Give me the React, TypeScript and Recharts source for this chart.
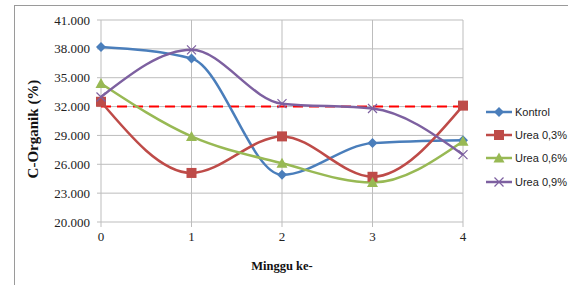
import { LineChart, Line, XAxis, YAxis, CartesianGrid, ReferenceLine } from 'recharts';

const weeks = [0, 1, 2, 3, 4];
const kontrol = [38.2, 37.0, 24.9, 28.2, 28.5];
const urea03 = [32.5, 25.1, 28.9, 24.7, 32.1];
const urea06 = [34.4, 28.9, 26.1, 24.1, 28.4];
const urea09 = [33.0, 37.9, 32.3, 31.8, 27.0];
const yTicks = [20, 23, 26, 29, 32, 35, 38, 41];
const xTicks = [0, 1, 2, 3, 4];
const baseline = 32;

const data = weeks.map((w, i) => ({
  week: w,
  kontrol: kontrol[i],
  urea03: urea03[i],
  urea06: urea06[i],
  urea09: urea09[i],
}));

const series = [
  { key: 'kontrol', name: 'Kontrol', color: '#4A7EBB', shape: 'diamond' },
  { key: 'urea03', name: 'Urea 0,3%', color: '#BE4B48', shape: 'square' },
  { key: 'urea06', name: 'Urea 0,6%', color: '#98B954', shape: 'triangle' },
  { key: 'urea09', name: 'Urea 0,9%', color: '#7D60A0', shape: 'cross' },
];

const serif = '"Liberation Serif", "Times New Roman", serif';

const Marker = ({ cx, cy, shape, color }: any) => {
  if (cx == null || cy == null) return null;
  if (shape === 'diamond') {
    return <path d={`M${cx},${cy - 5}L${cx + 5},${cy}L${cx},${cy + 5}L${cx - 5},${cy}Z`} fill={color} />;
  }
  if (shape === 'square') {
    return <rect x={cx - 5} y={cy - 5} width={10} height={10} fill={color} />;
  }
  if (shape === 'triangle') {
    return <path d={`M${cx},${cy - 5.5}L${cx + 5.5},${cy + 4.5}L${cx - 5.5},${cy + 4.5}Z`} fill={color} />;
  }
  return (
    <path
      d={`M${cx - 4.5},${cy - 4.5}L${cx + 4.5},${cy + 4.5}M${cx + 4.5},${cy - 4.5}L${cx - 4.5},${cy + 4.5}`}
      stroke={color}
      strokeWidth={1.2}
      fill="none"
    />
  );
};

const XTick = ({ x, y, payload }: any) => (
  <text x={x} y={y + 10} textAnchor="middle" style={{ fontFamily: serif, fontSize: 13, fill: '#222' }}>
    {payload.value}
  </text>
);

const YTick = ({ x, y, payload }: any) => (
  <text x={x} y={y + 4.5} textAnchor="end" style={{ fontFamily: serif, fontSize: 13, fill: '#222' }}>
    {Number(payload.value).toFixed(3)}
  </text>
);

const ChartLegend = () => (
  <div
    style={{
      position: 'absolute',
      left: 486,
      top: 100,
      fontFamily: '"Liberation Sans", Arial, sans-serif',
      fontSize: 11,
      color: '#222',
    }}
  >
    {series.map((s) => (
      <div key={s.key} style={{ display: 'flex', alignItems: 'center', height: 23.3 }}>
        <svg width={27} height={12} style={{ marginRight: 2 }}>
          <line x1={0} y1={6} x2={26} y2={6} stroke={s.color} strokeWidth={2.5} />
          <Marker cx={13} cy={6} shape={s.shape} color={s.color} />
        </svg>
        <span>{s.name}</span>
      </div>
    ))}
  </div>
);

const App = () => {
  return (
    <div style={{ position: 'absolute', left: 0, top: 0, width: 578, height: 285, background: '#fff', overflow: 'hidden' }}>
      <div
        style={{
          position: 'absolute',
          left: 14,
          top: 5,
          width: 553,
          height: 290,
          borderTop: '1px solid #9a9a9a',
          borderLeft: '1px solid #9a9a9a',
        }}
      />
      <div style={{ position: 'absolute', left: 0, top: 0 }}>
        <LineChart width={578} height={285} data={data} margin={{ top: 20, right: 115, bottom: 33, left: 41 }}>
          <CartesianGrid stroke="#bdbdbd" strokeWidth={1} />
          <XAxis
            dataKey="week"
            type="number"
            domain={[0, 4]}
            ticks={xTicks}
            height={30}
            tickSize={5}
            tickMargin={4}
            axisLine={false}
            tickLine={{ stroke: '#bdbdbd' }}
            tick={<XTick />}
            label={{
              value: 'Minggu ke-',
              position: 'bottom',
              offset: 9,
              style: { fontFamily: serif, fontWeight: 'bold', fontSize: 12.5, fill: '#111' },
            }}
          />
          <YAxis
            type="number"
            domain={[20, 41]}
            ticks={yTicks}
            width={60}
            tickSize={4}
            tickMargin={7}
            axisLine={false}
            tickLine={{ stroke: '#bdbdbd' }}
            tick={<YTick />}
            label={{
              value: 'C-Organik (%)',
              angle: -90,
              position: 'insideLeft',
              offset: -8,
              dy: 8,
              style: { textAnchor: 'middle', fontFamily: serif, fontWeight: 'bold', fontSize: 15, fill: '#111' },
            }}
          />
          <ReferenceLine y={baseline} stroke="#FF0000" strokeWidth={2} strokeDasharray="10 6" />
          {series.map((s) => (
            <Line
              key={s.key}
              dataKey={s.key}
              name={s.name}
              type="monotone"
              stroke={s.color}
              strokeWidth={2.5}
              dot={(p: any) => <Marker key={`${s.key}-${p.index}`} cx={p.cx} cy={p.cy} shape={s.shape} color={s.color} />}
              activeDot={false}
              isAnimationActive={false}
            />
          ))}
        </LineChart>
      </div>
      <ChartLegend />
    </div>
  );
};

export default App;
